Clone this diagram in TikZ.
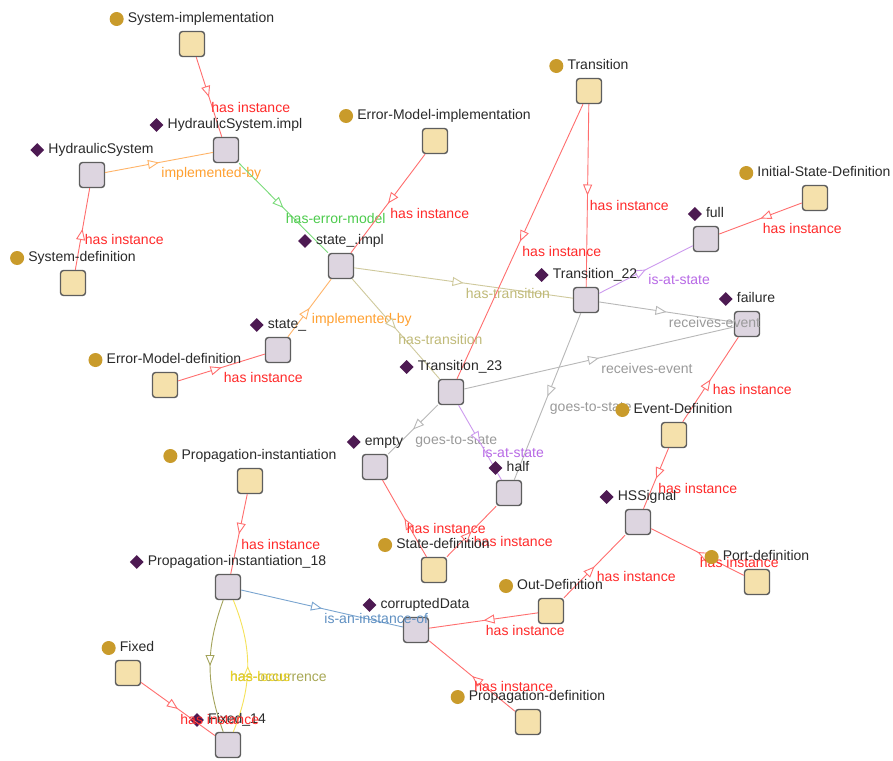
\documentclass[tikz,border=0pt]{standalone}
\usepackage{fontspec}
\setmainfont{Liberation Sans}
\usetikzlibrary{arrows.meta,decorations.markings,shapes.geometric}

\definecolor{clsfill}{HTML}{F5E1AC}
\definecolor{indfill}{HTML}{DDD5E0}
\definecolor{boxline}{HTML}{5E5E5E}
\definecolor{gold}{HTML}{C99B2B}
\definecolor{plum}{HTML}{4D1A52}
\definecolor{labtext}{HTML}{2A2A2A}
\definecolor{redline}{HTML}{FF6E6E}
\definecolor{redtext}{HTML}{FF2A2A}
\definecolor{orangeline}{HTML}{FFB468}
\definecolor{orangetext}{HTML}{FFA030}
\definecolor{greenline}{HTML}{7ADB7A}
\definecolor{greentext}{HTML}{4CCB4C}
\definecolor{khakiline}{HTML}{CFC99C}
\definecolor{khakitext}{HTML}{C0BA78}
\definecolor{purpleline}{HTML}{CC99EE}
\definecolor{purpletext}{HTML}{B86AE6}
\definecolor{grayline}{HTML}{B8B8B8}
\definecolor{graytext}{HTML}{9A9A9A}
\definecolor{blueline}{HTML}{7AA5D0}
\definecolor{bluetext}{HTML}{5F90C2}
\definecolor{oliveline}{HTML}{A3A35A}
\definecolor{olivetext}{HTML}{A8A855}
\definecolor{yellowline}{HTML}{F5E25A}
\definecolor{yellowtext}{HTML}{EED522}

\tikzset{
  box/.style={draw=boxline, line width=1.4pt, rounded corners=3pt,
    minimum size=25pt, inner sep=0pt},
  cls/.style={box, fill=clsfill},
  ind/.style={box, fill=indfill},
  nlab/.style={font=\fontsize{14}{16}\selectfont, text=labtext, inner sep=0pt,
    text height=10pt, text depth=3pt},
  dot/.style={circle, fill=gold, minimum size=14pt, inner sep=0pt},
  gem/.style={diamond, fill=plum, minimum width=14pt, minimum height=14pt, inner sep=0pt},
  edg/.style={draw=#1, line width=0.9pt,
    postaction={decorate, decoration={markings,
      mark=at position 0.5 with {\arrow{Triangle[length=11pt,width=9pt,color=#1,fill=white,line width=0.9pt]}}}}},
  el/.style={text=#1, font=\fontsize{14}{16}\selectfont, inner sep=0pt,
    anchor=base west, xshift=2pt, yshift=-15pt, pos=0.5},
}

\newcommand\classnode[3]{\node[cls] (#1) at (#2,#3) {};}
\newcommand\indnode[3]{\node[ind] (#1) at (#2,#3) {};}
\newcommand\classlabel[4]{\node[nlab] (#1-l) at (#2+9,#3-25) {#4};
  \node[dot] (#1-i) at ([xshift=-11pt]#1-l.west) {};}
\newcommand\indlabel[4]{\node[nlab] (#1-l) at (#2+9,#3-25) {#4};
  \node[gem] (#1-i) at ([xshift=-11pt]#1-l.west) {};}

\begin{document}
\begin{tikzpicture}[x=1pt,y=-1pt]
\useasboundingbox[fill=white] (0,0) rectangle (893,760);

% classes
\classnode{sysimpl}{192}{44}
\classnode{errimpl}{435}{141}
\classnode{transition}{589}{91}
\classnode{initdef}{815}{198}
\classnode{sysdef}{73}{283}
\classnode{errdef}{165}{385}
\classnode{eventdef}{674}{435}
\classnode{propinst}{250}{481}
\classnode{statedef}{434}{570}
\classnode{portdef}{757}{582}
\classnode{outdef}{551}{611}
\classnode{fixed}{128}{673}
\classnode{propdef}{528}{722}
% individuals
\indnode{hsimpl}{226}{150}
\indnode{hs}{92}{175}
\indnode{stimpl}{341}{266}
\indnode{st}{278}{350}
\indnode{full}{706}{239}
\indnode{tt}{586}{300}
\indnode{failure}{747}{324}
\indnode{tw}{451}{392}
\indnode{empty}{375}{467}
\indnode{half}{509}{493}
\indnode{hssignal}{638}{522}
\indnode{pi}{228}{587}
\indnode{corrupted}{416}{630}
\indnode{fixedf}{228}{745}

% edges
\draw[edg=redline] (sysimpl) -- node[el=redtext] (l1) {has instance} (hsimpl);
\draw[edg=orangeline] (hs) -- node[el=orangetext] (l2) {implemented-by} (hsimpl);
\draw[edg=redline] (sysdef) -- node[el=redtext] (l3) {has instance} (hs);
\draw[edg=greenline] (hsimpl) -- node[el=greentext] (l4) {has-error-model} (stimpl);
\draw[edg=redline] (errimpl) -- node[el=redtext] (l5) {has instance} (stimpl);
\draw[edg=orangeline] (st) -- node[el=orangetext] (l6) {implemented-by} (stimpl);
\draw[edg=redline] (errdef) -- node[el=redtext] (l7) {has instance} (st);
\draw[edg=khakiline] (stimpl) -- node[el=khakitext] (l8) {has-transition} (tt);
\draw[edg=khakiline] (stimpl) -- node[el=khakitext] (l9) {has-transition} (tw);
\draw[edg=redline] (transition) -- node[el=redtext] (l10) {has instance} (tw);
\draw[edg=redline] (transition) -- node[el=redtext] (l11) {has instance} (tt);
\draw[edg=redline] (initdef) -- node[el=redtext] (l12) {has instance} (full);
\draw[edg=purpleline] (tt) -- node[el=purpletext] (l13) {is-at-state} (full);
\draw[edg=grayline] (tt) -- node[el=graytext] (l14) {receives-event} (failure);
\draw[edg=grayline] (tw) -- node[el=graytext] (l15) {receives-event} (failure);
\draw[edg=grayline] (tt) -- node[el=graytext] (l16) {goes-to-state} (half);
\draw[edg=grayline] (tw) -- node[el=graytext] (l17) {goes-to-state} (empty);
\draw[edg=purpleline] (tw) -- node[el=purpletext] (l18) {is-at-state} (half);
\draw[edg=redline] (eventdef) -- node[el=redtext] (l19) {has instance} (failure);
\draw[edg=redline] (eventdef) -- node[el=redtext] (l20) {has instance} (hssignal);
\draw[edg=redline] (portdef) -- node[el=redtext] (l21) {has instance} (hssignal);
\draw[edg=redline] (outdef) -- node[el=redtext] (l22) {has instance} (hssignal);
\draw[edg=redline] (outdef) -- node[el=redtext] (l23) {has instance} (corrupted);
\draw[edg=redline] (propdef) -- node[el=redtext] (l24) {has instance} (corrupted);
\draw[edg=redline] (statedef) -- node[el=redtext] (l25) {has instance} (empty);
\draw[edg=redline] (statedef) -- node[el=redtext] (l26) {has instance} (half);
\draw[edg=redline] (propinst) -- node[el=redtext] (l27) {has instance} (pi);
\draw[edg=blueline] (pi) -- node[el=bluetext] (l28) {is-an-instance-of} (corrupted);
\draw[edg=oliveline] (pi) to[bend right=20] (fixedf);
\draw[edg=yellowline] (fixedf) to[bend right=22] (pi);
\path (pi) -- node[el=olivetext] (l29) {has-occurrence} (fixedf);
\path (pi) -- node[el=yellowtext] (l30) {has-locus} (fixedf);

% node labels
\classlabel{sysimpl}{192}{44}{System-implementation}
\classlabel{errimpl}{435}{141}{Error-Model-implementation}
\classlabel{transition}{589}{91}{Transition}
\classlabel{initdef}{815}{198}{Initial-State-Definition}
\classlabel{sysdef}{73}{283}{System-definition}
\classlabel{errdef}{165}{385}{Error-Model-definition}
\classlabel{eventdef}{674}{435}{Event-Definition}
\classlabel{propinst}{250}{481}{Propagation-instantiation}
\classlabel{statedef}{434}{570}{State-definition}
\classlabel{portdef}{757}{582}{Port-definition}
\classlabel{outdef}{551}{611}{Out-Definition}
\classlabel{fixed}{128}{673}{Fixed}
\classlabel{propdef}{528}{722}{Propagation-definition}
\indlabel{hsimpl}{226}{150}{HydraulicSystem.impl}
\indlabel{hs}{92}{175}{HydraulicSystem}
\indlabel{stimpl}{341}{266}{state\_.impl}
\indlabel{st}{278}{350}{state\_}
\indlabel{full}{706}{239}{full}
\indlabel{tt}{586}{300}{Transition\_22}
\indlabel{failure}{747}{324}{failure}
\indlabel{tw}{451}{392}{Transition\_23}
\indlabel{empty}{375}{467}{empty}
\indlabel{half}{509}{493}{half}
\indlabel{hssignal}{638}{522}{HSSignal}
\indlabel{pi}{228}{587}{Propagation-instantiation\_18}
\indlabel{corrupted}{416}{630}{corruptedData}
\indlabel{fixedf}{228}{745}{Fixed\_14}

% red label drawn over Fixed_14 label as in the reference
\draw[edg=redline] (fixed) -- node[el=redtext] (l31) {has instance} (fixedf);
\end{tikzpicture}
\end{document}
